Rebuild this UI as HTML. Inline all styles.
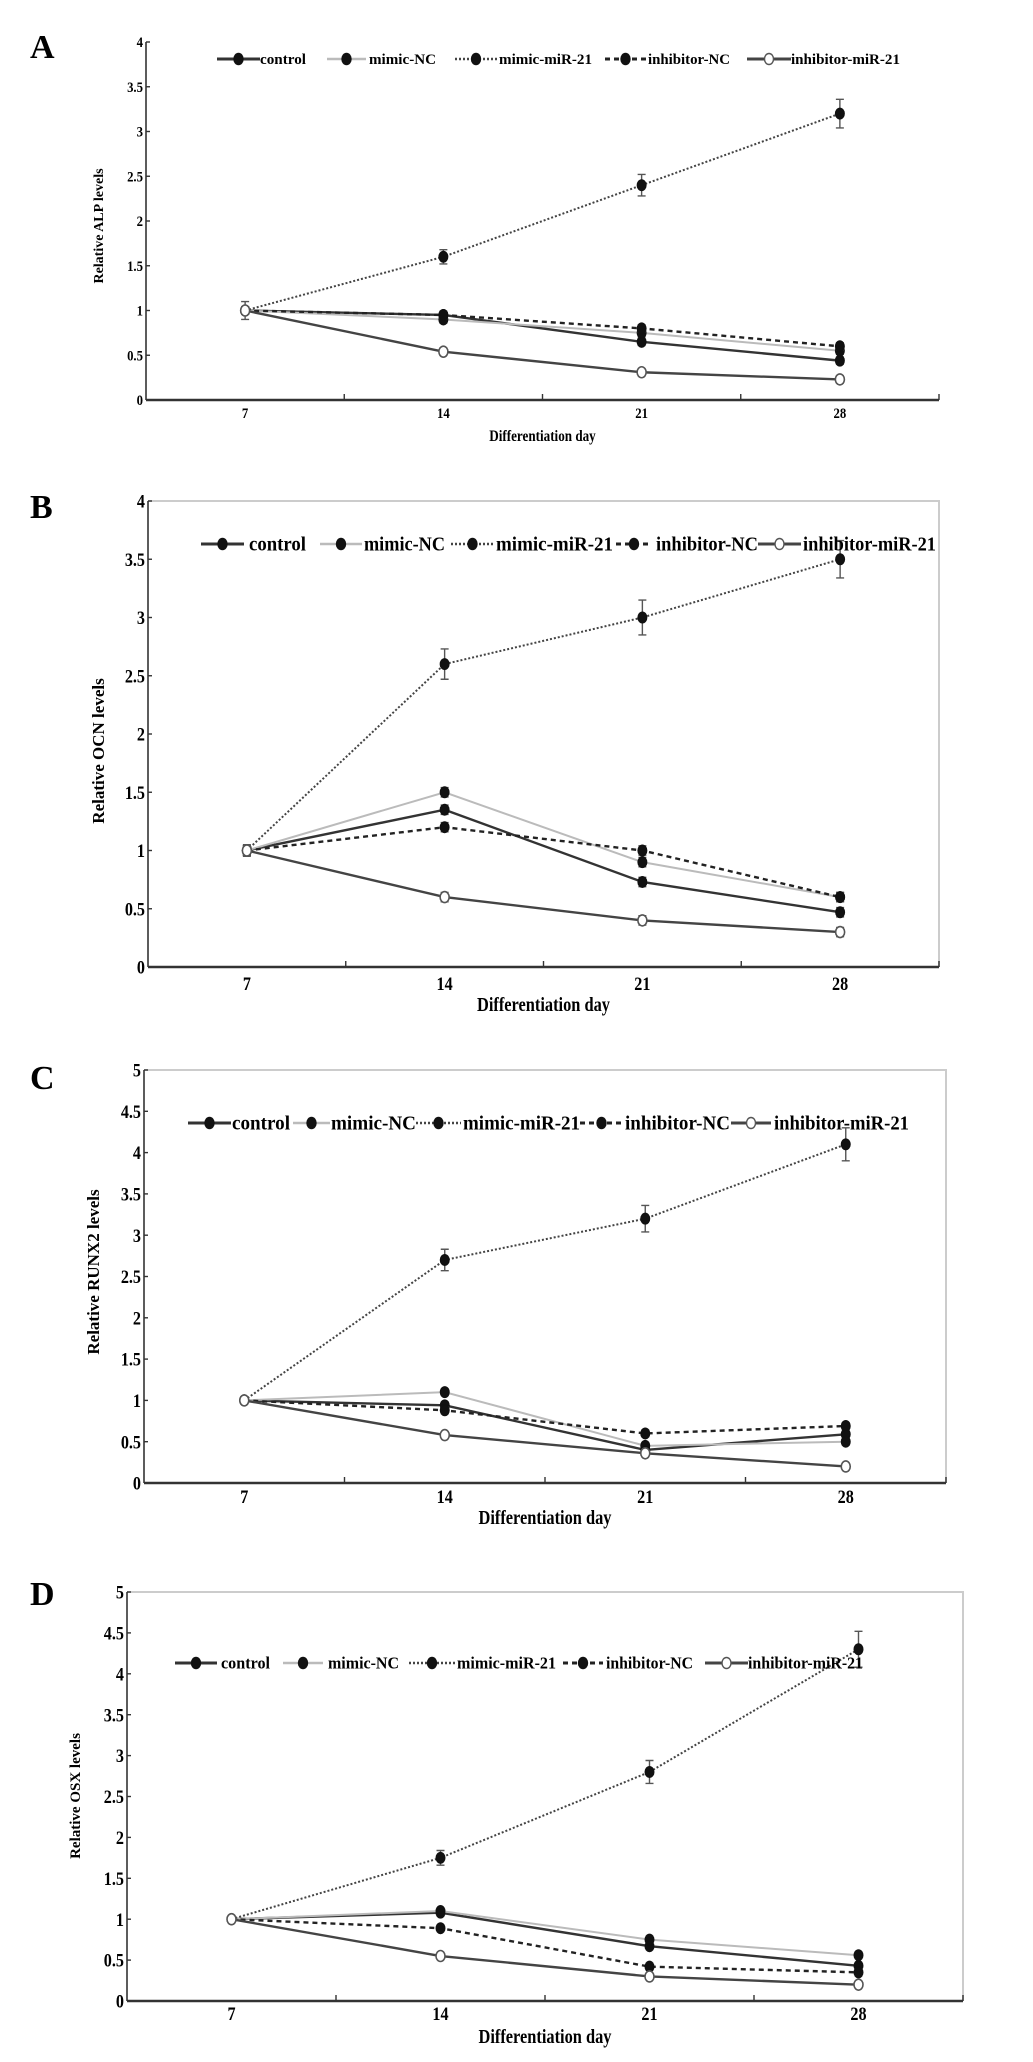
<!DOCTYPE html>
<html><head><meta charset="utf-8">
<style>
html,body{margin:0;padding:0;background:#fff;}
svg{display:block;}
</style></head>
<body>
<svg id="fig" width="1033" height="2062" viewBox="0 0 1033 2062" xmlns="http://www.w3.org/2000/svg" font-family="'Liberation Serif', serif" font-weight="bold"></svg>
<script>
// ---- data ----
const days = [7, 14, 21, 28];
const seriesNames = ["control", "mimic-NC", "mimic-miR-21", "inhibitor-NC", "inhibitor-miR-21"];

const alpControl = [1, 0.95, 0.65, 0.44];
const alpMimicNC = [1, 0.9, 0.75, 0.55];
const alpMimicMiR = [1, 1.6, 2.4, 3.2];
const alpInhNC = [1, 0.95, 0.8, 0.6];
const alpInhMiR = [1, 0.54, 0.31, 0.23];
const alpMiRErr = [0.1, 0.08, 0.12, 0.16];

const ocnControl = [1, 1.35, 0.73, 0.47];
const ocnMimicNC = [1, 1.5, 0.9, 0.6];
const ocnMimicMiR = [1, 2.6, 3.0, 3.5];
const ocnInhNC = [1, 1.2, 1.0, 0.6];
const ocnInhMiR = [1, 0.6, 0.4, 0.3];
const ocnMiRErr = [0.05, 0.13, 0.15, 0.16];

const runxControl = [1, 0.94, 0.4, 0.59];
const runxMimicNC = [1, 1.1, 0.45, 0.5];
const runxMimicMiR = [1, 2.7, 3.2, 4.1];
const runxInhNC = [1, 0.88, 0.6, 0.69];
const runxInhMiR = [1, 0.58, 0.36, 0.2];
const runxMiRErr = [0.03, 0.13, 0.16, 0.2];

const osxControl = [1, 1.08, 0.67, 0.43];
const osxMimicNC = [1, 1.1, 0.75, 0.56];
const osxMimicMiR = [1, 1.75, 2.8, 4.3];
const osxInhNC = [1, 0.89, 0.42, 0.35];
const osxInhMiR = [1, 0.55, 0.3, 0.2];
const osxMiRErr = [0.04, 0.09, 0.14, 0.22];

const ticksA = [0, 0.5, 1, 1.5, 2, 2.5, 3, 3.5, 4];
const ticksC = [0, 0.5, 1, 1.5, 2, 2.5, 3, 3.5, 4, 4.5, 5];
const tickLabelsA = ["0","0.5","1","1.5","2","2.5","3","3.5","4"];
const tickLabelsC = ["0","0.5","1","1.5","2","2.5","3","3.5","4","4.5","5"];

// ---- layout ----
const NS = "http://www.w3.org/2000/svg";
const svg = document.getElementById("fig");
function mk(tag, attrs, parent) {
  const e = document.createElementNS(NS, tag);
  for (const k in attrs) e.setAttribute(k, attrs[k]);
  (parent || svg).appendChild(e);
  return e;
}
const styles = [
  {stroke:"#333", w:2.4, dash:"", open:false},
  {stroke:"#bbb", w:2, dash:"", open:false},
  {stroke:"#444", w:2, dash:"2,2", open:false},
  {stroke:"#222", w:2.4, dash:"5,4", open:false},
  {stroke:"#444", w:2.4, dash:"", open:true}
];

const panels = [
  {letter:"A", ylab:"Relative ALP levels", data:[alpControl, alpMimicNC, alpMimicMiR, alpInhNC, alpInhMiR], err:alpMiRErr,
   ticks:ticksA, tickLabels:tickLabelsA, ymax:4, x0:146, x1:939, yTop:42, yBot:400, frame:false, tf:15,
   letterY:58, ylabX:103, ylabY:226, ylabF:14, xlabY:441, xlabF:16, tickLabY:418,
   leg:{y:59, f:15, items:[[217,260,260,306],[327,366,369,436],[455,497,499,592],[605,646,648,730],[747,791,791,900]]}},
  {letter:"B", ylab:"Relative OCN levels", data:[ocnControl, ocnMimicNC, ocnMimicMiR, ocnInhNC, ocnInhMiR], err:ocnMiRErr,
   ticks:ticksA, tickLabels:tickLabelsA, ymax:4, x0:148, x1:939, yTop:501, yBot:967, frame:true, tf:19,
   letterY:518, ylabX:104, ylabY:751, ylabF:17, xlabY:1011, xlabF:20, tickLabY:990,
   leg:{y:544, f:20, items:[[201,244,249,306],[320,362,364,445],[451,494,496,613],[616,652,656,758],[758,801,803,936]]}},
  {letter:"C", ylab:"Relative RUNX2 levels", data:[runxControl, runxMimicNC, runxMimicMiR, runxInhNC, runxInhMiR], err:runxMiRErr,
   ticks:ticksC, tickLabels:tickLabelsC, ymax:5, x0:144, x1:946, yTop:1070, yBot:1483, frame:true, tf:19,
   letterY:1089, ylabX:99, ylabY:1272, ylabF:17, xlabY:1524, xlabF:20, tickLabY:1503,
   leg:{y:1123, f:20, items:[[188,231,232,290],[293,330,331,416],[416,461,463,580],[580,623,625,730],[731,771,774,909]]}},
  {letter:"D", ylab:"Relative OSX levels", data:[osxControl, osxMimicNC, osxMimicMiR, osxInhNC, osxInhMiR], err:osxMiRErr,
   ticks:ticksC, tickLabels:tickLabelsC, ymax:5, x0:127, x1:963, yTop:1592, yBot:2001, frame:true, tf:19,
   letterY:1605, ylabX:80, ylabY:1796, ylabF:15, xlabY:2043, xlabF:20, tickLabY:2020,
   leg:{y:1663, f:17, items:[[175,217,221,270],[283,323,328,399],[409,455,457,556],[563,603,606,693],[705,748,748,863]]}}
];
const legNames = [seriesNames[0], seriesNames[1], seriesNames[2], seriesNames[3], seriesNames[4]];

panels.forEach(function(p, pi) {
  const g = mk("g", {});
  
  
  const xs = function(d){ return p.x0 + (d - 3.5) / 28 * (p.x1 - p.x0); };
  const ys = function(v){ return p.yBot - v / p.ymax * (p.yBot - p.yTop); };

  const lt = mk("text", {x:30, y:p.letterY, "font-size":34}, g);
  lt.textContent = p.letter;
  
  

  if (p.frame) {
    const fr = mk("polyline", {points:p.x0+","+p.yTop+" "+p.x1+","+p.yTop+" "+p.x1+","+p.yBot, fill:"none", stroke:"#ccc", "stroke-width":2}, g);
    
    
  }
  const ya = mk("line", {x1:p.x0, y1:p.yTop, x2:p.x0, y2:p.yBot, stroke:"#333", "stroke-width":1.6}, g);
  
  
  const xa = mk("line", {x1:p.x0, y1:p.yBot, x2:p.x1, y2:p.yBot, stroke:"#333", "stroke-width":2.6}, g);
  
  

  p.ticks.forEach(function(t, i) {
    const y = ys(t);
    mk("line", {x1:p.x0, y1:y, x2:p.x0+4, y2:y, stroke:"#333", "stroke-width":1.4}, g);
    const tl = mk("text", {x:p.x0-3, y:y+p.tf*0.35, "font-size":p.tf, "text-anchor":"end", transform:"translate("+(p.x0-3)+",0) scale(0.85,1) translate("+(-(p.x0-3))+",0)"}, g);
    tl.textContent = p.tickLabels[i];
    
    
  });
  [10.5, 17.5, 24.5, 31.5].forEach(function(d) {
    mk("line", {x1:xs(d), y1:p.yBot, x2:xs(d), y2:p.yBot-6, stroke:"#333", "stroke-width":1.4}, g);
  });
  days.forEach(function(d) {
    const tl = mk("text", {x:xs(d), y:p.tickLabY, "font-size":p.tf, "text-anchor":"middle", transform:"translate("+xs(d)+",0) scale(0.85,1) translate("+(-xs(d))+",0)"}, g);
    tl.textContent = String(d);
    
    
  });
  const xcx = (p.x0 + p.x1) / 2;
  const xl = mk("text", {x:xcx, y:p.xlabY, "font-size":p.xlabF, "text-anchor":"middle", transform:"translate("+xcx+",0) scale(0.82,1) translate("+(-xcx)+",0)"}, g);
  xl.textContent = "Differentiation day";
  
  
  const yl = mk("text", {x:0, y:0, "font-size":p.ylabF, "text-anchor":"middle", transform:"translate("+p.ylabX+","+p.ylabY+") rotate(-90)"}, g);
  yl.textContent = p.ylab;
  
  

  // series
  p.data.forEach(function(vals, si) {
    const st = styles[si];
    const sg = mk("g", {}, g);
    
    
    const pts = vals.map(function(v, i){ return xs(days[i]) + "," + ys(v); }).join(" ");
    const ln = mk("polyline", {points:pts, fill:"none", stroke:st.stroke, "stroke-width":st.w, "stroke-dasharray":st.dash}, sg);
    
    
    vals.forEach(function(v, i) {
      const cx = xs(days[i]), cy = ys(v);
      const e = (si === 2) ? p.err[i] : 0.04;
      const eb = mk("path", {d:"M"+cx+","+ys(v+e)+"V"+ys(v-e)+"M"+(cx-4)+","+ys(v+e)+"h8M"+(cx-4)+","+ys(v-e)+"h8", stroke:"#555", "stroke-width":1.4, fill:"none"}, sg);
      
      
      const m = mk("ellipse", {cx:cx, cy:cy, rx:4.5, ry:5.5, fill:st.open ? "#fff" : "#111", stroke:st.open ? "#555" : "#111", "stroke-width":st.open ? 1.6 : 1}, sg);
      
      
    });
  });

  // legend
  const lg = mk("g", {}, g);
  
  
  p.leg.items.forEach(function(it, si) {
    const st = styles[si];
    const eg = mk("g", {}, lg);
    
    
    mk("line", {x1:it[0], y1:p.leg.y, x2:it[1], y2:p.leg.y, stroke:st.stroke, "stroke-width":st.w+0.6, "stroke-dasharray":st.dash}, eg);
    mk("ellipse", {cx:(it[0]+it[1])/2, cy:p.leg.y, rx:4.5, ry:5.5, fill:st.open ? "#fff" : "#111", stroke:st.open ? "#555" : "#111", "stroke-width":1.4}, eg);
    const t = mk("text", {x:it[2], y:p.leg.y + p.leg.f*0.32, "font-size":p.leg.f, textLength:(it[3]-it[2]), lengthAdjust:"spacingAndGlyphs"}, eg);
    t.textContent = legNames[si];
  });
});
</script>
</body></html>
